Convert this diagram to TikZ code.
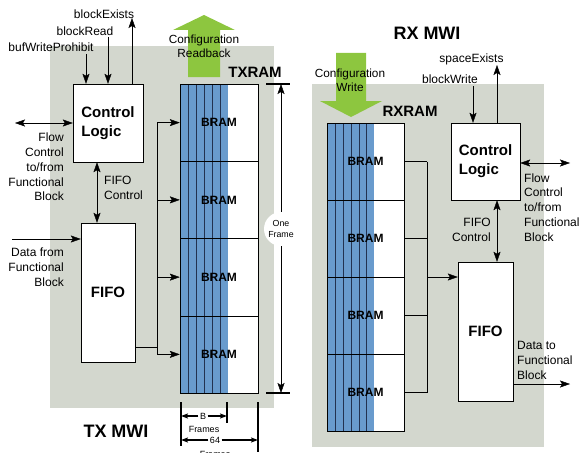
\documentclass[tikz,border=0pt]{standalone}
\usepackage{fontspec}
\setmainfont{Liberation Sans}
\usetikzlibrary{arrows.meta}
\definecolor{bgray}{RGB}{211,215,206}
\definecolor{bblue}{RGB}{105,155,205}
\definecolor{bgreen}{RGB}{141,198,63}
\definecolor{strip}{RGB}{35,50,80}
\pgfdeclarelayer{bg}\pgfdeclarelayer{mid}\pgfsetlayers{bg,mid,main}
\newcommand\fsz[2]{\fontsize{#1}{#2}\selectfont}
\begin{document}
\begin{tikzpicture}[x=1pt,y=-1pt,line width=1.9pt,
  >={Stealth[length=10pt,width=7pt,inset=2pt]},
  box/.style={draw,fill=white,inner sep=0pt,align=left,font=\fsz{15}{19}\bfseries},
  ram/.style={draw,inner sep=0pt,minimum width=78pt,font=\fsz{12}{14}\bfseries},
  lbl/.style={inner sep=0pt,font=\fsz{12}{14.8}},
  cfg/.style={inner sep=0pt,align=center,font=\fsz{11.8}{13.5}},
  big/.style={inner sep=0pt,font=\fsz{15}{19}\bfseries},
  ttl/.style={inner sep=0pt,font=\fsz{18}{22}\bfseries},
  sml/.style={inner sep=1.5pt,font=\fsz{9}{12}},
  dim/.style={line width=1.2pt},
  dimarr/.style={line width=1.5pt,-{Stealth[length=7pt,width=5pt,inset=1.5pt]}},
  stripline/.style={line width=1pt,draw=strip}]
\useasboundingbox (0,0) rectangle (580,452);
% backgrounds
\begin{pgfonlayer}{bg}
  \fill[bgray] (50,46) rectangle (274,408);
  \fill[bgray] (312,84) rectangle (544,447);
\end{pgfonlayer}
\begin{pgfonlayer}{mid}
  % TXRAM fill
  \fill[white] (180,84) rectangle (258,393);
  \fill[bblue] (180,84) rectangle (228,393);
  \foreach \x in {188,196,204,212,220} \draw[stripline] (\x,84) -- (\x,393);
  % RXRAM fill
  \fill[white] (327,123) rectangle (404,431);
  \fill[bblue] (327,123) rectangle (374,431);
  \foreach \x in {335.5,343.5,351,359,366.5} \draw[stripline] (\x,123) -- (\x,431);
  % green arrows
  \fill[bgreen] (188,77) -- (188,30) -- (173,30) -- (204,15) -- (235,30) -- (220,30) -- (220,77) -- cycle;
  \fill[bgreen] (336,53) -- (336,101) -- (320,101) -- (351,117) -- (382,101) -- (366,101) -- (366,53) -- cycle;
\end{pgfonlayer}

% ---------------- TX side ----------------
\node[box,minimum width=70pt,minimum height=78pt] (txcl) at (108,123) {Control\\Logic};
\node[box,minimum width=54pt,minimum height=139pt] (txff) at (108,292.5) {FIFO};
\foreach \i in {1,...,4}
  \node[ram,minimum height=77.25pt] (tr\i) at (219,{84+77.25*(\i-0.5)}) {BRAM};

\node[cfg] (cfgr) at (204,46.5) {Configuration\\Readback};
\node[big] (txram) at (255,72) {TXRAM};
\node[ttl] (txmwi) at (116,431) {TX MWI};

\node[lbl] (lbwp) at (51,47) {bufWriteProhibit};
\node[lbl] (lbr) at (85,31) {blockRead};
\node[lbl] (lbe) at (104,14) {blockExists};
\coordinate (bwp) at (86,54);
\coordinate (br) at (108,37);
\coordinate (be) at (132,18);
\draw[->] (bwp) -- (bwp |- txcl.north);
\draw[->] (br) -- (br |- txcl.north);
\draw[->] (be |- txcl.north) -- (be);

\coordinate (tfl) at (15,123);
\draw[<->] (tfl) -- (tfl -| txcl.west);
\node[lbl,anchor=east,align=right] (ltfl) at (64,167) {Flow\\Control\\to/from\\Functional\\Block};

\coordinate (tfc) at (97,0);
\draw[<->] (tfc |- txcl.south) -- (tfc |- txff.north);
\node[lbl,anchor=west,align=left] (ltfc) at (104,188) {FIFO\\Control};

\coordinate (tdf) at (12,239);
\draw[->] (tdf) -- (tdf -| txff.west);
\node[lbl,anchor=east,align=right] (ltdf) at (64,267.5) {Data from\\Functional\\Block};

\coordinate (j1) at (157,347);
\coordinate (jt) at (157,123);
\coordinate (jb) at (157,355);
\draw (txff.east |- j1) -- (j1);
\draw (jt) -- (jb);
\foreach \i in {1,...,4} \draw[->] (jt |- tr\i.west) -- (tr\i.west);

% One Frame dimension
\coordinate (oft) at (281,84);
\coordinate (ofb) at (281,393);
\draw[dim] (266,84) -- (290,84);
\draw[dim] (266,393) -- (290,393);
\node[circle,fill=white,inner sep=0pt,minimum size=34pt,align=center,font=\fsz{8.8}{11}] (of) at (281,229) {One\\Frame};
\draw[->] (of.north) -- (oft);
\draw[->] (of.south) -- (ofb);

% B / 64 frames dimension
\coordinate (e1) at (181,0);
\coordinate (e2) at (227,0);
\coordinate (e3) at (258,0);
\draw[dim] (181,402) -- (181,446);
\draw[dim] (227,402) -- (227,423);
\draw[dim] (258,402) -- (258,452);
\node[sml] (bn) at (203,416) {B};
\node[sml,inner sep=0pt] (bf) at (204,429) {Frames};
\draw[dimarr] (bn) -- (bn -| e1);
\draw[dimarr] (bn) -- (bn -| e2);
\node[sml] (sn) at (215,440) {64};
\node[sml,inner sep=0pt] (sf) at (215,454) {Frames};
\draw[dimarr] (sn) -- (sn -| e1);
\draw[dimarr] (sn) -- (sn -| e3);

% ---------------- RX side ----------------
\node[ttl] (rxmwi) at (427,33) {RX MWI};
\node[cfg] (cfgw) at (350,80.5) {Configuration\\Write};
\node[big] (rxram) at (410,111) {RXRAM};
\foreach \i in {1,...,4}
  \node[ram,minimum width=77pt,minimum height=77pt] (rr\i) at (365.5,{123+77*(\i-0.5)}) {BRAM};

\node[box,minimum width=69pt,minimum height=77pt] (rxcl) at (485.5,161.5) {Control\\Logic};
\node[box,minimum width=55pt,minimum height=139pt] (rxff) at (485.5,331.5) {FIFO};

\node[lbl] (lbw) at (450,79) {blockWrite};
\node[lbl] (lse) at (471.5,59) {spaceExists};
\coordinate (bw) at (473,86);
\coordinate (se) at (497,65);
\draw[->] (bw) -- (bw |- rxcl.north);
\draw[->] (se |- rxcl.north) -- (se);

\coordinate (rfl) at (570,163);
\draw[<->] (rfl -| rxcl.east) -- (rfl);
\node[lbl,anchor=west,align=left] (lrfl) at (524,207.5) {Flow\\Control\\to/from\\Functional\\Block};

\coordinate (rfc) at (497,0);
\draw[<->] (rfc |- rxcl.south) -- (rfc |- rxff.north);
\node[lbl,anchor=east,align=right] (lrfc) at (491,230) {FIFO\\Control};

\coordinate (rj) at (427,0);
\foreach \i in {1,...,4} \draw (rr\i.east) -- (rj |- rr\i.east);
\draw (rj |- rr1.east) -- (rj |- rr4.east);
\coordinate (rm) at (427,277);
\draw[->] (rm) -- (rm -| rxff.west);

\coordinate (rdt) at (570,384);
\draw[->] (rdt -| rxff.east) -- (rdt);
\node[lbl,anchor=west,align=left] (lrdt) at (517,360.5) {Data to\\Functional\\Block};
\end{tikzpicture}
\end{document}
